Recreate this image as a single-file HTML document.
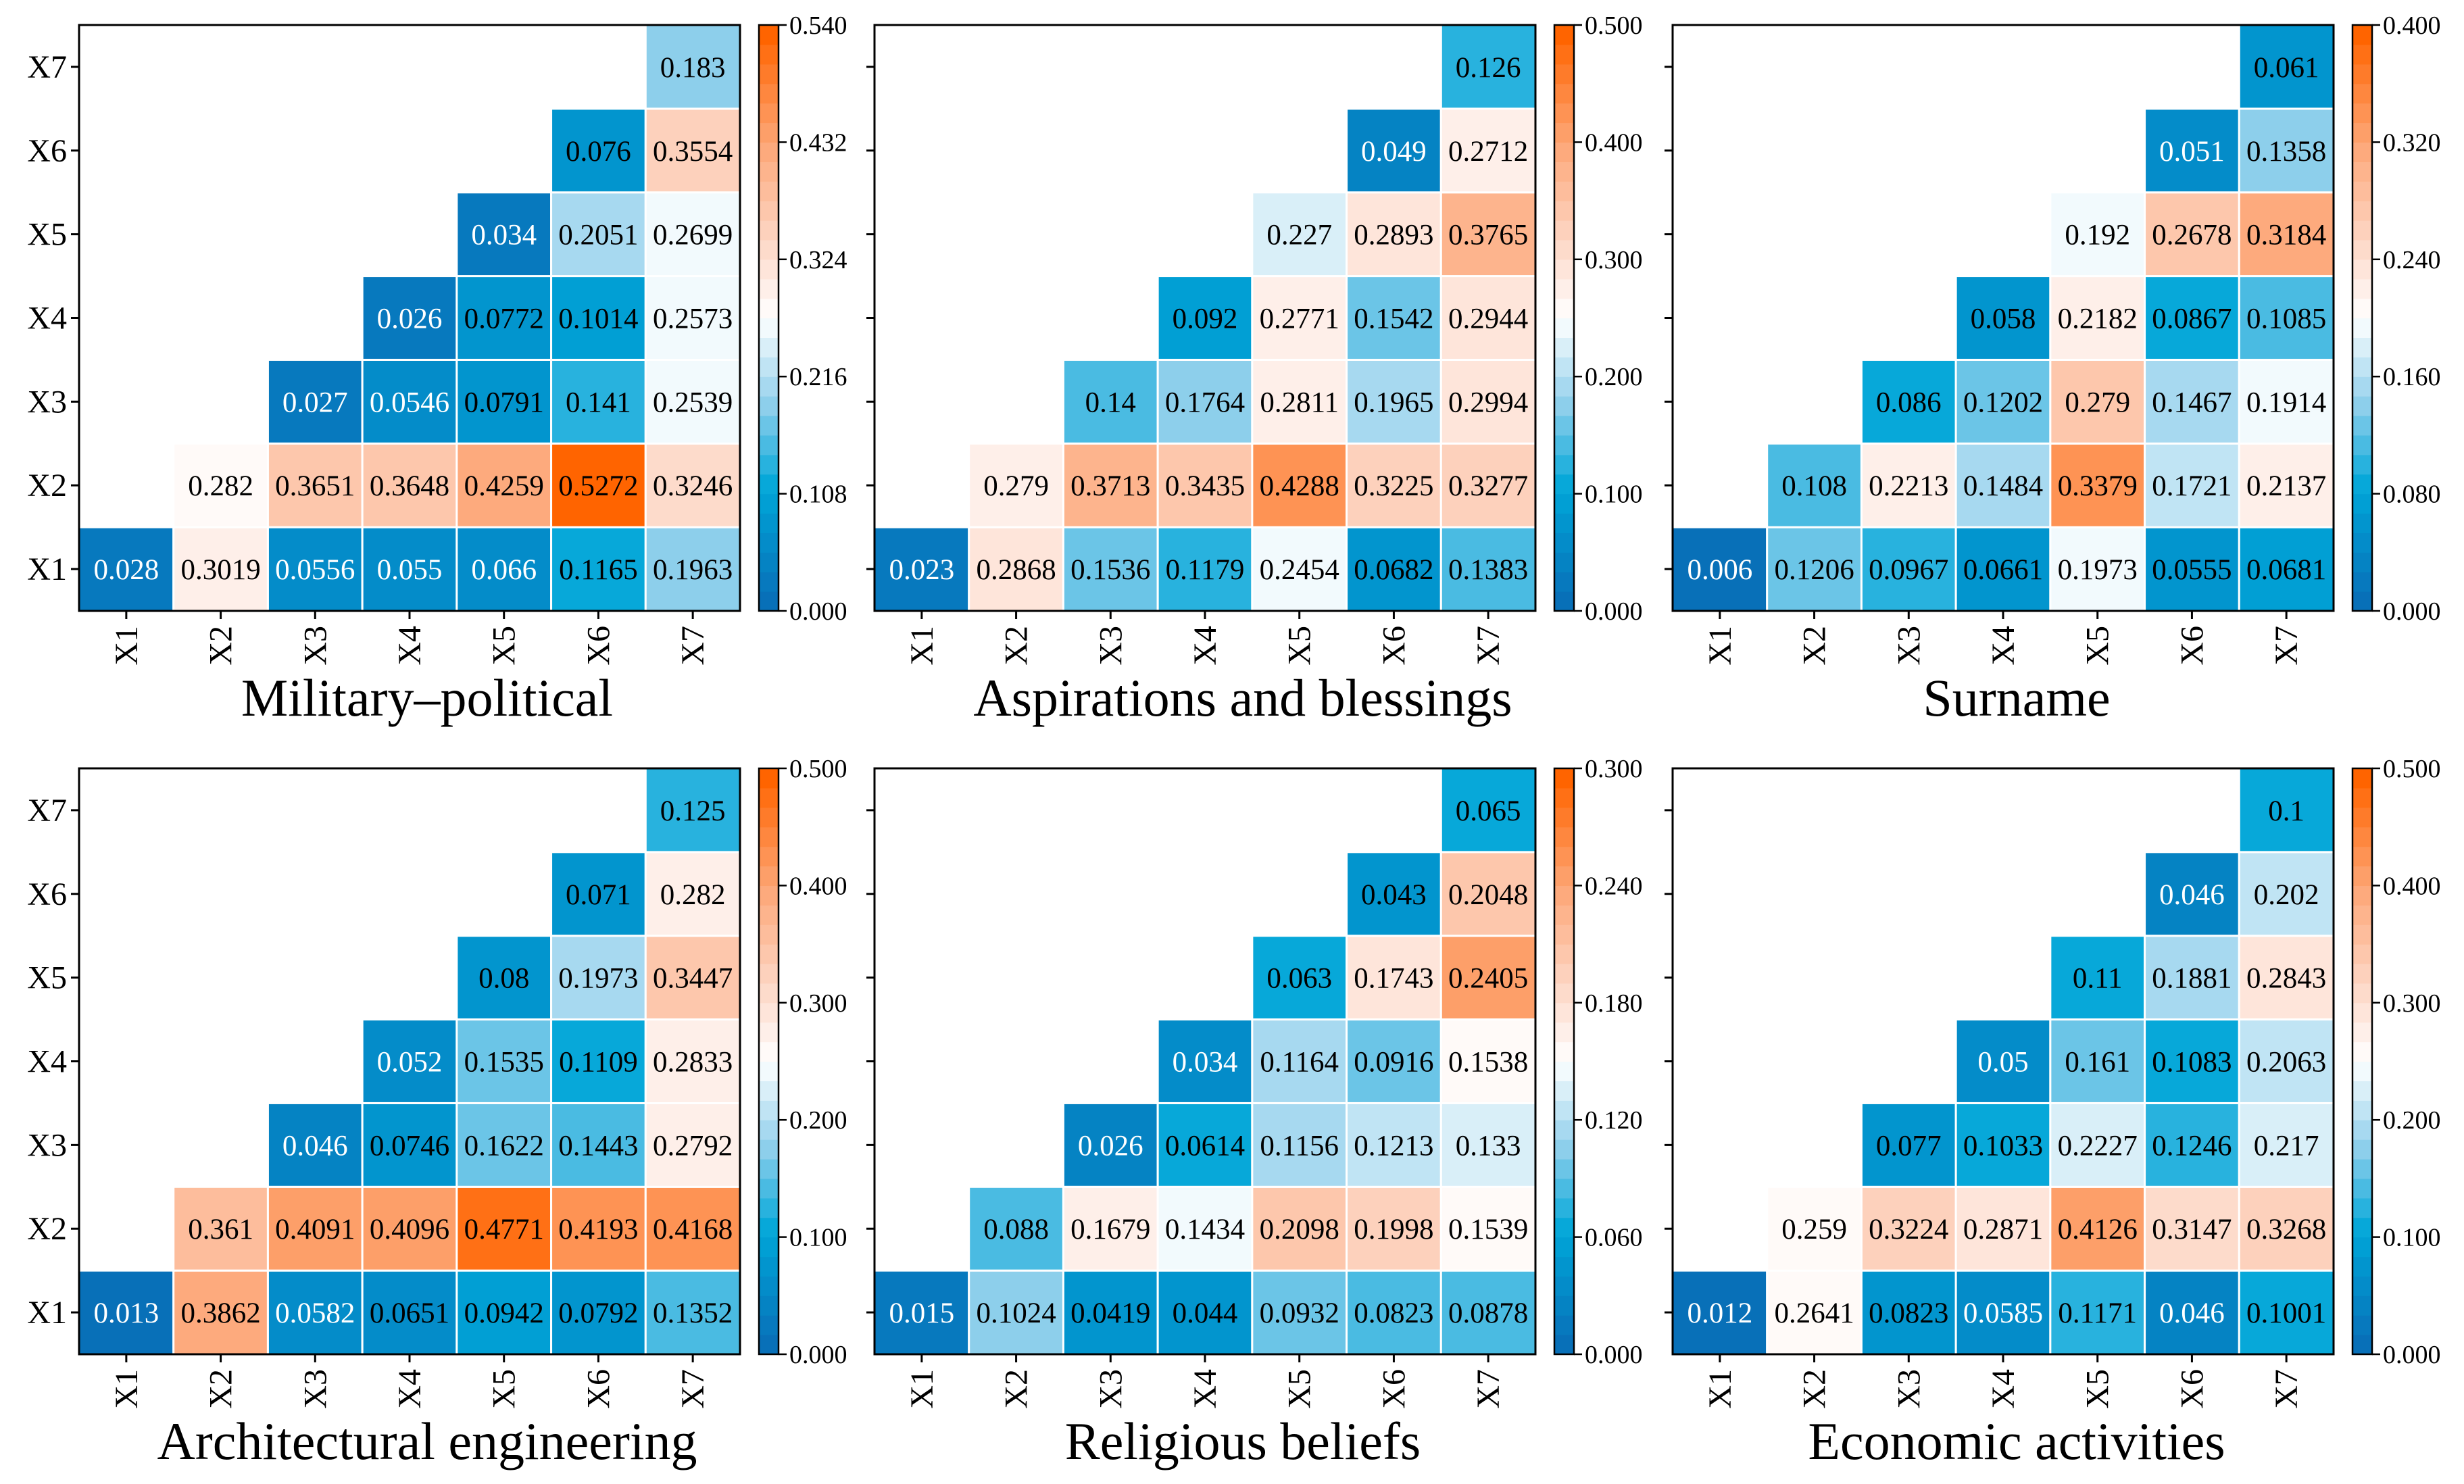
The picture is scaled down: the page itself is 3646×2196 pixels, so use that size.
<!DOCTYPE html>
<html><head><meta charset="utf-8"><style>
html,body{margin:0;padding:0;background:#fff;}
svg{display:block;font-family:"Liberation Serif","DejaVu Serif",serif;}
</style></head>
<body>
<svg id="chart" width="3646" height="2196" viewBox="0 0 3646 2196" xmlns="http://www.w3.org/2000/svg"></svg>
<script>
const panelTitles = ["Military\u2013political","Aspirations and blessings","Surname","Architectural engineering","Religious beliefs","Economic activities"];
const panelMax = [0.54,0.5,0.4,0.5,0.3,0.5];
const varLabels = ["X1","X2","X3","X4","X5","X6","X7"];
// rows X1..X7; row k holds columns Xk..X7 (row X1 holds all)
const p1 = [[0.028,0.3019,0.0556,0.055,0.066,0.1165,0.1963],[0.282,0.3651,0.3648,0.4259,0.5272,0.3246],[0.027,0.0546,0.0791,0.141,0.2539],[0.026,0.0772,0.1014,0.2573],[0.034,0.2051,0.2699],[0.076,0.3554],[0.183]];
const p2 = [[0.023,0.2868,0.1536,0.1179,0.2454,0.0682,0.1383],[0.279,0.3713,0.3435,0.4288,0.3225,0.3277],[0.14,0.1764,0.2811,0.1965,0.2994],[0.092,0.2771,0.1542,0.2944],[0.227,0.2893,0.3765],[0.049,0.2712],[0.126]];
const p3 = [[0.006,0.1206,0.0967,0.0661,0.1973,0.0555,0.0681],[0.108,0.2213,0.1484,0.3379,0.1721,0.2137],[0.086,0.1202,0.279,0.1467,0.1914],[0.058,0.2182,0.0867,0.1085],[0.192,0.2678,0.3184],[0.051,0.1358],[0.061]];
const p4 = [[0.013,0.3862,0.0582,0.0651,0.0942,0.0792,0.1352],[0.361,0.4091,0.4096,0.4771,0.4193,0.4168],[0.046,0.0746,0.1622,0.1443,0.2792],[0.052,0.1535,0.1109,0.2833],[0.08,0.1973,0.3447],[0.071,0.282],[0.125]];
const p5 = [[0.015,0.1024,0.0419,0.044,0.0932,0.0823,0.0878],[0.088,0.1679,0.1434,0.2098,0.1998,0.1539],[0.026,0.0614,0.1156,0.1213,0.133],[0.034,0.1164,0.0916,0.1538],[0.063,0.1743,0.2405],[0.043,0.2048],[0.065]];
const p6 = [[0.012,0.2641,0.0823,0.0585,0.1171,0.046,0.1001],[0.259,0.3224,0.2871,0.4126,0.3147,0.3268],[0.077,0.1033,0.2227,0.1246,0.217],[0.05,0.161,0.1083,0.2063],[0.11,0.1881,0.2843],[0.046,0.202],[0.1]];
const panels = [p1,p2,p3,p4,p5,p6];

const NS="http://www.w3.org/2000/svg";
const svg=document.getElementById('chart');
function mk(tag,attrs,parent){const e=document.createElementNS(NS,tag);for(const k in attrs)e.setAttribute(k,attrs[k]);(parent||svg).appendChild(e);return e;}
const stops=[[0,[8,112,184]],[0.2,[0,166,216]],[0.35,[146,208,236]],[0.5,[255,255,255]],[0.65,[253,210,190]],[0.8,[253,168,122]],[1,[255,100,0]]];
function cmap(t){
  t=Math.max(0,Math.min(1,t));
  t=Math.min(29,Math.floor(t*30))/29;
  for(let i=1;i<stops.length;i++){if(t<=stops[i][0]){const a=stops[i-1],b=stops[i];const f=(t-a[0])/(b[0]-a[0]);const c=a[1].map((v,j)=>Math.round(v+(b[1][j]-v)*f));return `rgb(${c[0]},${c[1]},${c[2]})`;}}
  return 'rgb(255,100,0)';
}
const lefts=[117,1294,2475], tops=[37,1137], W=978, H=867;
const titleShift=[26,56,20];
panels.forEach((data,pi)=>{
  const L=lefts[pi%3], T=tops[Math.floor(pi/3)], mx=panelMax[pi];
  const g=mk('g',{});
  
  
  const cw=W/7, ch=H/7;
  const xPos=i=>L+i*cw;
  const yPos=i=>T+(6-i)*ch;
  data.forEach((row,r)=>{
    const start=r===0?0:r;
    row.forEach((v,k)=>{
      const c=start+k;
      const rect=mk('rect',{x:xPos(c),y:yPos(r),width:cw,height:ch,fill:cmap(v/mx),stroke:'#fff','stroke-width':3},g);
      
      
      const tx=mk('text',{x:xPos(c)+cw/2,y:yPos(r)+ch/2+15,'text-anchor':'middle','font-size':43,fill:(v/mx<0.13)?'#fff':'#000'},g);
      tx.textContent=String(v);
      
      
    });
  });
  const frame=mk('rect',{x:L,y:T,width:W,height:H,fill:'none',stroke:'#000','stroke-width':3},g);
  
  
  varLabels.forEach((lab,i)=>{
    const cx=L+i*cw+cw/2;
    mk('line',{x1:cx,y1:T+H,x2:cx,y2:T+H+12,stroke:'#000','stroke-width':3},g);
    const xt=mk('text',{x:0,y:0,transform:`translate(${cx+16},${T+H+22}) rotate(-90)`,'text-anchor':'end','font-size':48},g);
    xt.textContent=lab;
    
    
    const cy=T+(6-i)*ch+ch/2;
    mk('line',{x1:L-12,y1:cy,x2:L,y2:cy,stroke:'#000','stroke-width':3},g);
    if(pi%3===0){
      const yt=mk('text',{x:L-18,y:cy+16,'text-anchor':'end','font-size':48},g);
      yt.textContent=lab;
      
      
    }
  });
  const title=mk('text',{x:L+W/2+titleShift[pi%3],y:T+H+155,'text-anchor':'middle','font-size':78},g);
  title.textContent=panelTitles[pi];
  
  
  // colorbar
  const cbx=L+W+28, cbw=29, N=30;
  for(let s=0;s<N;s++){
    const seg=mk('rect',{x:cbx,y:T+H-(s+1)*H/N,width:cbw,height:H/N+0.6,fill:cmap((s+0.5)/N)},g);
    
    
  }
  const cbf=mk('rect',{x:cbx,y:T,width:cbw,height:H,fill:'none',stroke:'#000','stroke-width':2.5},g);
  
  
  for(let k=0;k<=5;k++){
    const ty=T+H-k*H/5;
    mk('line',{x1:cbx+cbw,y1:ty,x2:cbx+cbw+12,y2:ty,stroke:'#000','stroke-width':2.5},g);
    const tl=mk('text',{x:cbx+cbw+16,y:ty+13,'font-size':38},g);
    tl.textContent=(mx*k/5).toFixed(3);
    
    
  }
});
</script>
</body></html>
